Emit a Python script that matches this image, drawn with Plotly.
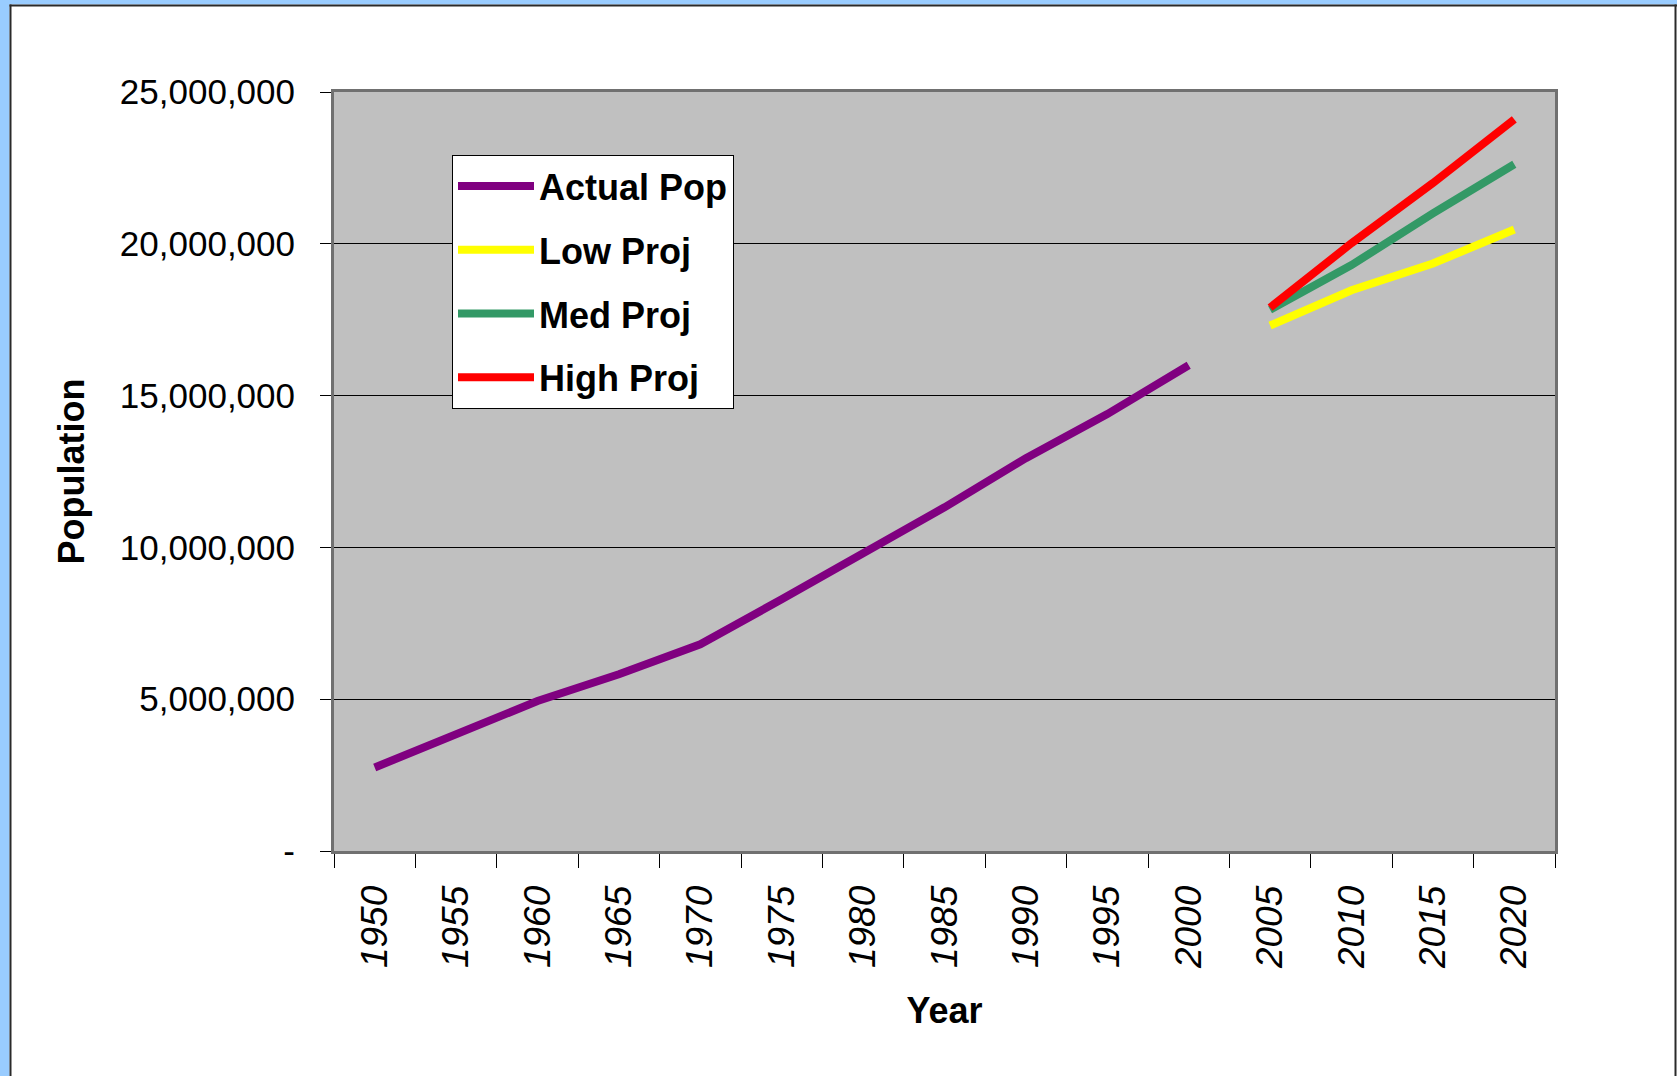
import plotly.graph_objects as go

# ---- data ----
years = ["1950", "1955", "1960", "1965", "1970", "1975", "1980", "1985",
         "1990", "1995", "2000", "2005", "2010", "2015", "2020"]
actual_years = years[:11]
actual_pop = [2750000, 3840000, 4940000, 5820000, 6810000, 8290000, 9770000,
              11320000, 12940000, 14390000, 16000000]
proj_years = years[11:]
low_proj = [17310000, 18470000, 19350000, 20470000]
med_proj = [17830000, 19300000, 21000000, 22620000]
high_proj = [17900000, 20020000, 22000000, 24100000]
y_tickvals = [0, 5000000, 10000000, 15000000, 20000000, 25000000]
y_ticktext = ["-", "5,000,000", "10,000,000", "15,000,000", "20,000,000", "25,000,000"]

# ---- layout geometry (pixels) ----
W, H = 1677, 1076
L, R, T, B = 334, 1555, 92, 851


def px(x):
    return (x - L) / (R - L)


def py(y):
    return (B - y) / (B - T)


FONT = "Liberation Sans, Arial, sans-serif"
BLUE = "#99CCFF"
EDGE = "#2a2a2a"

fig = go.Figure()
series = [
    ("Actual Pop", actual_years, actual_pop, "#800080"),
    ("Low Proj", proj_years, low_proj, "#FFFF00"),
    ("Med Proj", proj_years, med_proj, "#339966"),
    ("High Proj", proj_years, high_proj, "#FF0000"),
]
for name, xs, ys, col in series:
    fig.add_trace(go.Scatter(x=xs, y=ys, name=name, mode="lines",
                             legendgroup=name,
                             line=dict(color=col, width=8)))

frame = [
    # blue page strips on the left and top
    dict(type="rect", xref="paper", yref="paper", layer="below",
         x0=px(-5), x1=px(9.5), y0=py(1100), y1=py(-5),
         fillcolor=BLUE, line=dict(width=0)),
    dict(type="rect", xref="paper", yref="paper", layer="below",
         x0=px(-5), x1=px(1690), y0=py(4.5), y1=py(-5),
         fillcolor=BLUE, line=dict(width=0)),
    # dark panel edges
    dict(type="line", xref="paper", yref="paper", layer="below",
         x0=px(10.5), x1=px(10.5), y0=py(1100), y1=py(4.5),
         line=dict(color=EDGE, width=2)),
    dict(type="line", xref="paper", yref="paper", layer="below",
         x0=px(9.5), x1=px(1690), y0=py(5.5), y1=py(5.5),
         line=dict(color=EDGE, width=2)),
    dict(type="line", xref="paper", yref="paper", layer="below",
         x0=px(1675.5), x1=px(1675.5), y0=py(1100), y1=py(4.5),
         line=dict(color=EDGE, width=2)),
]

fig.update_layout(
    width=W, height=H,
    margin=dict(l=L, r=W - R, t=T, b=H - B, pad=0),
    paper_bgcolor="white",
    plot_bgcolor="#C0C0C0",
    font=dict(family=FONT, color="black"),
    showlegend=True,
    legend=dict(
        x=px(452), y=py(155), xanchor="left", yanchor="top",
        bgcolor="white", bordercolor="black", borderwidth=1,
        font=dict(family=FONT, size=36, color="black", weight="bold"),
        tracegroupgap=14,
        itemwidth=76,
    ),
    shapes=frame,
)

fig.update_xaxes(
    type="category",
    categoryorder="array", categoryarray=years,
    range=[-0.5, 14.5],
    tickson="boundaries",
    ticks="outside", ticklen=14, tickcolor="black", tickwidth=1,
    tickangle=-90,
    tickfont=dict(family=FONT, size=37, color="black", style="italic"),
    ticklabelstandoff=17,
    showline=True, linecolor="#707070", linewidth=3, mirror=True,
    showgrid=False,
    automargin=False,
    title=dict(text="Year", standoff=30,
               font=dict(family=FONT, size=36, color="black", weight="bold")),
)

fig.update_yaxes(
    range=[0, 25000000],
    tickvals=y_tickvals, ticktext=y_ticktext,
    ticks="outside", ticklen=11, tickcolor="black", tickwidth=1,
    tickfont=dict(family=FONT, size=35, color="black"),
    ticklabelstandoff=18,
    showline=True, linecolor="#707070", linewidth=3, mirror=True,
    showgrid=True, gridcolor="black", gridwidth=1,
    zeroline=False,
    automargin=False,
    title=dict(text="Population", standoff=25,
               font=dict(family=FONT, size=36, color="black", weight="bold")),
)

fig.write_html(
    "out.html",
    config={"displayModeBar": False},
    post_script="document.body.style.margin='0px';"
                "document.body.style.background='" + BLUE + "';",
)
